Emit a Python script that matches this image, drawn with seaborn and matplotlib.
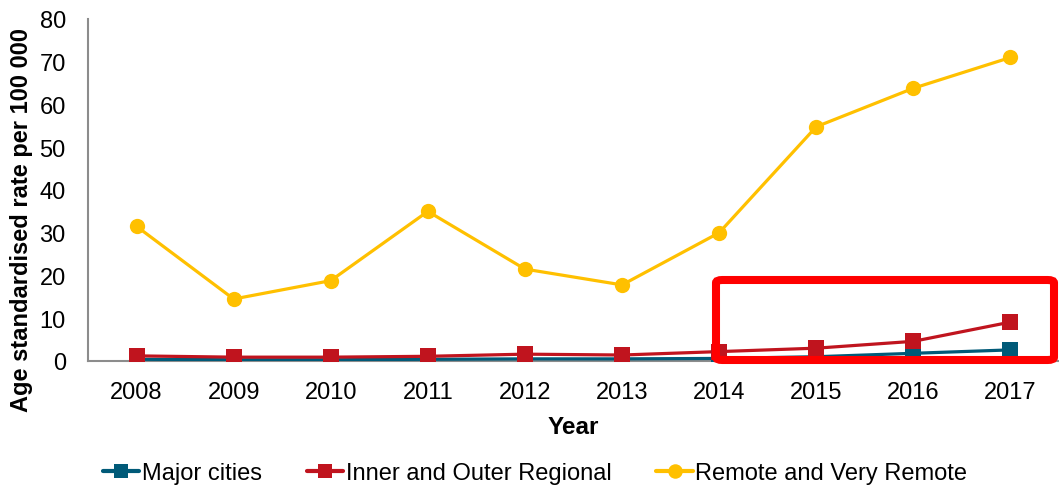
import matplotlib
matplotlib.use("Agg")
import matplotlib.pyplot as plt
import seaborn as sns
import pandas as pd
from matplotlib.patches import FancyBboxPatch
from matplotlib.ticker import FixedLocator

years = ["2008", "2009", "2010", "2011", "2012", "2013", "2014", "2015", "2016", "2017"]
major_cities = [0.4, 0.3, 0.3, 0.4, 0.5, 0.5, 0.6, 1.0, 1.8, 2.6]
inner_outer_regional = [1.2, 0.9, 0.9, 1.1, 1.6, 1.4, 2.2, 3.0, 4.6, 9.1]
remote_very_remote = [31.5, 14.5, 18.8, 35.0, 21.5, 17.8, 30.0, 54.8, 63.8, 71.0]

series_names = ["Major cities", "Inner and Outer Regional", "Remote and Very Remote"]
series_values = [major_cities, inner_outer_regional, remote_very_remote]
colors = ["#005A78", "#C0141E", "#FFC000"]
markers = ["s", "s", "o"]

sns.set_style("white")
plt.rcParams["font.family"] = ["Liberation Sans", "DejaVu Sans"]
plt.rcParams["text.color"] = "black"
plt.rcParams["axes.labelcolor"] = "black"
plt.rcParams["xtick.color"] = "black"
plt.rcParams["ytick.color"] = "black"

fig = plt.figure(figsize=(10.59, 4.89), dpi=100)
ax = fig.add_axes([88 / 1059, 1 - 362 / 489, (1059 - 88) / 1059, (362 - 20) / 489])

pos = list(range(len(years)))
for name, vals, c, m in zip(series_names, series_values, colors, markers):
    df = pd.DataFrame({"x": pos, "y": vals})
    sns.lineplot(data=df, x="x", y="y", ax=ax, color=c, marker=m, markersize=11,
                 markeredgewidth=0, linewidth=2.3, label=name, zorder=3)

ax.set_xlim(-0.5, len(years) - 0.5)
ax.set_ylim(0, 80)
ax.set_yticks(range(0, 81, 10))
ax.set_xticks(pos)
ax.set_xticklabels(years)
ax.xaxis.set_minor_locator(FixedLocator([p - 0.5 for p in pos] + [len(years) - 0.5]))
ax.tick_params(axis="x", which="major", length=0, labelsize=17, pad=14.5, labelcolor="black")
ax.tick_params(axis="x", which="minor", length=7, width=1.2, color="#8c8c8c", direction="out")
ax.tick_params(axis="y", length=5, width=1.2, color="#8c8c8c", labelsize=17, pad=11,
               direction="out", labelcolor="black")
for s in ["top", "right"]:
    ax.spines[s].set_visible(False)
for s in ["left", "bottom"]:
    ax.spines[s].set_color("#8c8c8c")
    ax.spines[s].set_linewidth(1.5)

ax.set_xlabel("Year", fontsize=17.5, fontweight="bold", color="black")
ax.xaxis.set_label_coords(0.5, -(416 - 362) / 342)
ax.set_ylabel("Age standardised rate per 100 000", fontsize=17, fontweight="bold", color="black")
ax.yaxis.set_label_coords(-(88 - 33) / 971, (362 - 220) / 342)

if ax.legend_:
    ax.legend_.remove()
handles, labels = ax.get_legend_handles_labels()
leg = fig.legend(handles, labels, loc="center", bbox_to_anchor=(535 / 1059, 1 - 474 / 489),
                 ncol=3, frameon=False, fontsize=17, handlelength=1.55, handletextpad=0.1,
                 columnspacing=1.9, markerscale=0.95, borderpad=0)
for line in leg.get_lines():
    line.set_linewidth(3.0)

box = FancyBboxPatch((716 / 1059, 1 - 361 / 489), (1054 - 716) / 1059, (361 - 281) / 489,
                     boxstyle="round,pad=0,rounding_size=0.006", transform=fig.transFigure,
                     fill=False, edgecolor="#FF0000", linewidth=5.8, clip_on=False, zorder=5)
fig.patches.append(box)

fig.savefig("out.png", dpi=100)
